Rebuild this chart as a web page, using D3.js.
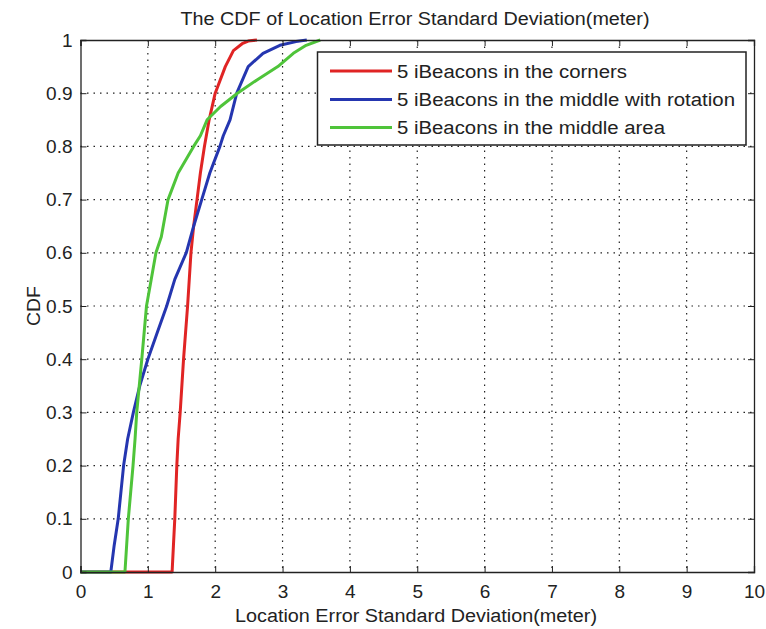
<!DOCTYPE html>
<html><head><meta charset="utf-8">
<script src="https://cdn.jsdelivr.net/npm/d3@7"></script>
<style>body{margin:0;background:#fff}svg{font-family:"Liberation Sans",Arial,sans-serif}</style>
</head><body>
<svg id="c" width="766" height="629"></svg>
<script>
const title = "The CDF of Location Error Standard Deviation(meter)";
const xLabel = "Location Error Standard Deviation(meter)";
const yLabel = "CDF";
const xTicks = [0,1,2,3,4,5,6,7,8,9,10];
const yTicks = [0,0.1,0.2,0.3,0.4,0.5,0.6,0.7,0.8,0.9,1];
const seriesNames = ["5 iBeacons in the corners","5 iBeacons in the middle with rotation","5 iBeacons in the middle area"];
const seriesColors = ["#e02424","#2536b0","#4fc43a"];
// [x, cdf] values
const cornersX = [0,1.36,1.38,1.40,1.43,1.45,1.48,1.53,1.59,1.64,1.68,1.73,1.78,1.84,1.91,2.00,2.15,2.27,2.40,2.49,2.62];
const cornersY = [0,0,0.05,0.1,0.2,0.25,0.3,0.4,0.5,0.6,0.65,0.7,0.75,0.8,0.85,0.9,0.95,0.98,0.993,0.998,1];
const rotationX = [0,0.45,0.50,0.56,0.64,0.70,0.785,0.88,1.00,1.14,1.28,1.40,1.57,1.68,1.80,1.92,2.07,2.12,2.22,2.32,2.49,2.71,2.96,3.20,3.36];
const rotationY = [0,0,0.05,0.1,0.2,0.25,0.3,0.35,0.4,0.45,0.5,0.55,0.6,0.65,0.7,0.75,0.8,0.82,0.85,0.9,0.95,0.975,0.99,0.997,1];
const middleX = [0,0.66,0.71,0.78,0.81,0.835,0.91,0.98,1.05,1.12,1.20,1.30,1.45,1.68,1.78,1.88,2.08,2.33,2.62,2.93,3.16,3.35,3.56];
const middleY = [0,0,0.1,0.2,0.25,0.3,0.4,0.5,0.55,0.6,0.63,0.7,0.75,0.8,0.82,0.85,0.875,0.9,0.925,0.95,0.975,0.99,1];

const series = [
  {name:seriesNames[0], color:seriesColors[0], x:cornersX, y:cornersY, len:230},
  {name:seriesNames[1], color:seriesColors[1], x:rotationX, y:rotationY, len:338},
  {name:seriesNames[2], color:seriesColors[2], x:middleX, y:middleY, len:268}
];

const svg = d3.select("#c");
const L=80.5, R=754, T=40, B=572;
const x = d3.scaleLinear().domain([0,10]).range([L,R]);
const y = d3.scaleLinear().domain([0,1]).range([B,T]);

// grid
const g = svg.append("g");
g.selectAll(".gx").data(xTicks.slice(1,-1)).join("line")
  .attr("x1",d=>x(d)).attr("x2",d=>x(d)).attr("y1",T).attr("y2",B)
  .attr("stroke","#222").attr("stroke-width",1.2).attr("stroke-dasharray","1.5,5");
g.selectAll(".gy").data(yTicks.slice(1,-1)).join("line")
  .attr("y1",d=>y(d)).attr("y2",d=>y(d)).attr("x1",L).attr("x2",R)
  .attr("stroke","#222").attr("stroke-width",1.2).attr("stroke-dasharray","1.5,5");

// lines
const line = d3.line().x(d=>x(d[0])).y(d=>y(d[1]));
series.forEach(s=>{
  const pts = s.x.map((v,i)=>[v,s.y[i]]);
  svg.append("path").datum(pts).attr("d",line).attr("fill","none")
    .attr("stroke",s.color).attr("stroke-width",3).attr("stroke-linejoin","round");
});

// axes
const fmt = d=> d===0?"0":(d===1?"1":d3.format(".1f")(d));
svg.append("g").attr("transform",`translate(0,${B})`)
  .call(d3.axisBottom(x).tickValues(xTicks).tickSize(-6).tickPadding(13).tickFormat(d3.format("d")));
svg.append("g").attr("transform",`translate(${L},0)`)
  .call(d3.axisLeft(y).tickValues(yTicks).tickSize(-6).tickPadding(8).tickFormat(fmt));
svg.append("g").attr("transform",`translate(0,${T})`)
  .call(d3.axisTop(x).tickValues(xTicks).tickSize(-6).tickFormat(""));
svg.append("g").attr("transform",`translate(${R},0)`)
  .call(d3.axisRight(y).tickValues(yTicks).tickSize(-6).tickFormat(""));
svg.selectAll(".domain").attr("stroke","#222").attr("stroke-width",1.3);
svg.selectAll(".tick line").attr("stroke","#222");
svg.selectAll(".tick text").attr("font-size",19).attr("fill","#222")
  .attr("font-family","'Liberation Sans',Arial,sans-serif");

// title & labels
svg.append("text").attr("x",415).attr("y",25).attr("text-anchor","middle")
  .attr("font-size",18).attr("fill","#222").attr("textLength",469).attr("lengthAdjust","spacingAndGlyphs").text(title);
svg.append("text").attr("x",416).attr("y",622).attr("text-anchor","middle")
  .attr("font-size",18).attr("fill","#222").attr("textLength",362).attr("lengthAdjust","spacingAndGlyphs").text(xLabel);
svg.append("text").attr("transform",`translate(40,${(T+B)/2}) rotate(-90)`).attr("text-anchor","middle")
  .attr("font-size",18).attr("fill","#222").attr("textLength",40).attr("lengthAdjust","spacingAndGlyphs").text(yLabel);

// legend
const lg = svg.append("g");
lg.append("rect").attr("x",317.5).attr("y",52).attr("width",428.5).attr("height",93)
  .attr("fill","#fff").attr("stroke","#222").attr("stroke-width",1.5);
const ly = [71,99.5,127.5];
series.forEach((s,i)=>{
  lg.append("line").attr("x1",330).attr("x2",392).attr("y1",ly[i]).attr("y2",ly[i])
    .attr("stroke",s.color).attr("stroke-width",3);
  lg.append("text").attr("x",397).attr("y",ly[i]+6.5).attr("font-size",18).attr("fill","#222")
    .attr("textLength",s.len).attr("lengthAdjust","spacingAndGlyphs").text(s.name);
});
</script>
</body></html>
